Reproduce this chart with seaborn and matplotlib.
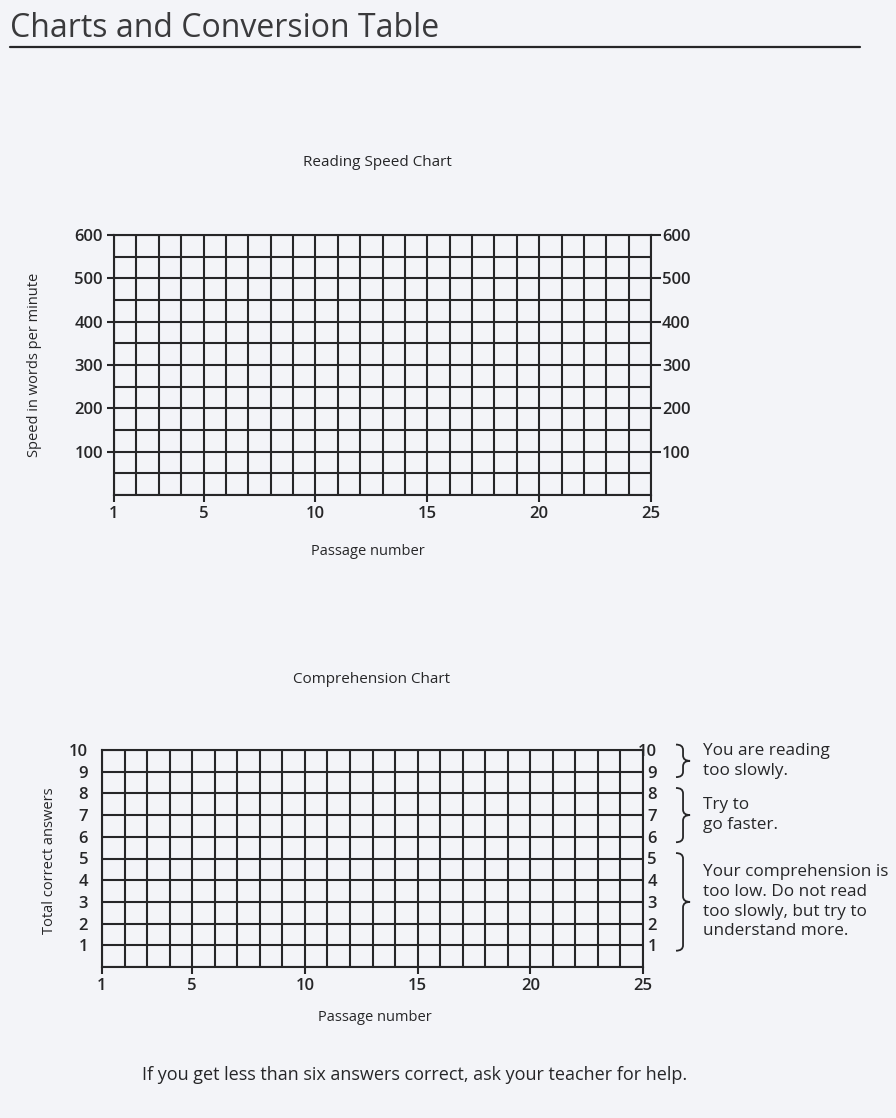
import matplotlib
matplotlib.use('Agg')
import matplotlib.pyplot as plt
import seaborn as sns
from matplotlib import font_manager
from matplotlib.path import Path
from matplotlib.patches import PathPatch
from matplotlib.lines import Line2D
from matplotlib.transforms import blended_transform_factory

# blank record forms: only the scales carry values
passages = list(range(1, 26))
passage_ticks = [1, 5, 10, 15, 20, 25]
speed_lines = [0, 50, 100, 150, 200, 250, 300, 350, 400, 450, 500, 550, 600]
speed_ticks = [100, 200, 300, 400, 500, 600]
answer_lines = [0, 1, 2, 3, 4, 5, 6, 7, 8, 9, 10]
answer_ticks = [1, 2, 3, 4, 5, 6, 7, 8, 9, 10]
advice_bands = [(9, 10), (6, 8), (1, 5)]
advice_texts = ['You are reading\ntoo slowly.',
                'Try to\ngo faster.',
                'Your comprehension is\ntoo low. Do not read\ntoo slowly, but try to\nunderstand more.']

PAPER = '#f3f4f8'
INK = '#262628'
LW = 1.5
W, H = 896, 1118


def pick_font(*names):
    for n in names:
        try:
            font_manager.findfont(font_manager.FontProperties(family=n), fallback_to_default=False)
            return n
        except ValueError:
            pass
    return 'DejaVu Sans'


sns.set_theme(style='white', rc={'axes.facecolor': PAPER, 'figure.facecolor': PAPER,
                                 'text.color': INK, 'axes.labelcolor': INK,
                                 'xtick.color': INK, 'ytick.color': INK})
BODY = pick_font('Open Sans', 'Noto Sans', 'DejaVu Sans')
plt.rcParams['font.family'] = [BODY, 'DejaVu Sans']


def setup_grid(ax, ylines, yticks):
    ax.set_xlim(passages[0], passages[-1])
    ax.set_ylim(ylines[0], ylines[-1])
    ax.set_xticks(passage_ticks)
    ax.set_xticks(passages, minor=True)
    ax.set_yticks(yticks)
    ax.set_yticks(ylines, minor=True)
    ax.grid(True, which='both', color=INK, lw=LW)
    ax.set_axisbelow(False)
    ax.tick_params(which='minor', length=0)
    ax.tick_params(axis='x', which='major', length=5, width=LW, pad=3, labelsize=12,
                   direction='out', bottom=True)
    for s in ax.spines.values():
        s.set_visible(True)
        s.set_color(INK)
        s.set_linewidth(LW)


def bold_ticks(ax):
    for lab in ax.get_xticklabels() + ax.get_yticklabels():
        lab.set_fontweight('semibold')
    for t in ax.yaxis.get_major_ticks():
        t.label2.set_fontweight('semibold')


def brace(ax, lo, hi, x0, x1, r):
    tr = blended_transform_factory(ax.transAxes, ax.transData)
    xm = (x0 + x1) / 2
    mid = (lo + hi) / 2
    verts = [(x0, hi), (xm, hi), (xm, hi - r),
             (xm, mid + r), (xm, mid), (x1, mid),
             (xm, mid), (xm, mid - r),
             (xm, lo + r), (xm, lo), (x0, lo)]
    codes = [Path.MOVETO, Path.CURVE3, Path.CURVE3,
             Path.LINETO, Path.CURVE3, Path.CURVE3,
             Path.CURVE3, Path.CURVE3,
             Path.LINETO, Path.CURVE3, Path.CURVE3]
    ax.add_patch(PathPatch(Path(verts, codes), fill=False, lw=1.3, color=INK,
                           transform=tr, clip_on=False))


fig = plt.figure(figsize=(W / 100, H / 100), dpi=100)

# heading
fig.text(10 / W, 1 - 37 / H, 'Charts and Conversion Table',
         fontsize=23, color='#3a3a3c', va='baseline')
fig.add_artist(Line2D([10 / W, 860 / W], [1 - 47 / H] * 2, color=INK, lw=1.6))

# reading speed chart
ax1 = fig.add_axes([114 / W, 1 - 495 / H, 537 / W, 260 / H])
setup_grid(ax1, speed_lines, speed_ticks)
ax1.tick_params(axis='y', which='major', length=5, width=LW, pad=3, labelsize=12,
                left=True, right=True, labelleft=True, labelright=True)
for t in ax1.yaxis.get_major_ticks():
    t.tick2line.set_markersize(7)
ax1.set_xlabel('Passage number', fontsize=10.5)
ax1.xaxis.set_label_coords(0.472, -0.19)
ax1.set_ylabel('Speed in words per minute', fontsize=10.5)
ax1.yaxis.set_label_coords(-0.134, 0.5)
ax1.text(0.49, 1.277, 'Reading Speed Chart', transform=ax1.transAxes,
         ha='center', va='center', fontsize=11)
bold_ticks(ax1)

# comprehension chart
ax2 = fig.add_axes([102 / W, 1 - 967 / H, 541 / W, 217 / H])
setup_grid(ax2, answer_lines, answer_ticks)
ax2.tick_params(axis='y', which='major', length=0, labelsize=12, pad=10,
                left=False, right=False, labelleft=True, labelright=True)
for t in ax2.yaxis.get_major_ticks():
    t.label2.set_horizontalalignment('right')
ax2.set_xlabel('Passage number', fontsize=10.5)
ax2.xaxis.set_label_coords(0.505, -0.198)
ax2.set_ylabel('Total correct answers', fontsize=10.5)
ax2.yaxis.set_label_coords(-0.083, 0.49)
ax2.text(0.499, 1.323, 'Comprehension Chart', transform=ax2.transAxes,
         ha='center', va='center', fontsize=11)
bold_ticks(ax2)

band_tr = blended_transform_factory(ax2.transAxes, ax2.transData)
for (lo, hi), msg in zip(advice_bands, advice_texts):
    brace(ax2, lo - 0.25, hi + 0.25, 1.061, 1.087, 0.25)
    ax2.text(1.111, (lo + hi) / 2, msg, transform=band_tr,
             ha='left', va='center', fontsize=12.3, linespacing=1.3)

fig.text(415 / W, 1 - 1075 / H,
         'If you get less than six answers correct, ask your teacher for help.',
         ha='center', va='center', fontsize=13)

fig.savefig('out.png', dpi=100, facecolor=PAPER)
